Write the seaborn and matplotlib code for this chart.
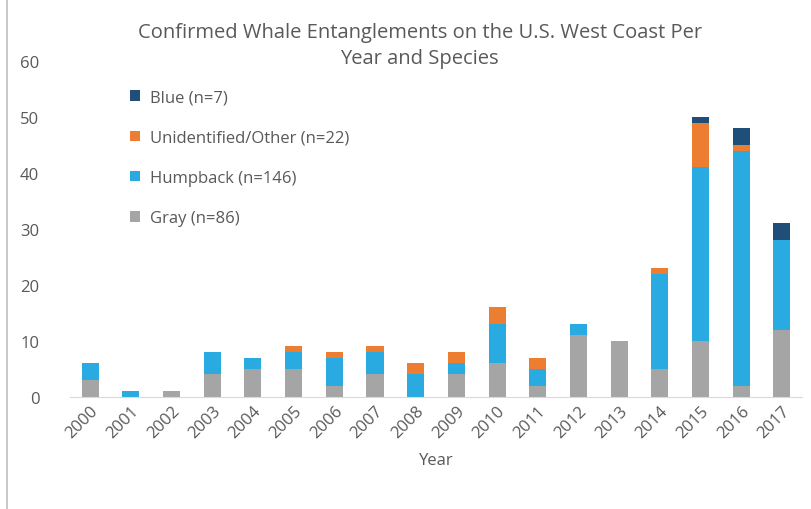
import numpy as np
import pandas as pd
import seaborn as sns
import matplotlib.pyplot as plt
from matplotlib.patches import Rectangle

# dados
anos = ['2000', '2001', '2002', '2003', '2004', '2005', '2006', '2007', '2008',
        '2009', '2010', '2011', '2012', '2013', '2014', '2015', '2016', '2017']
gray = [3, 0, 1, 4, 5, 5, 2, 4, 0, 4, 6, 2, 11, 10, 5, 10, 2, 12]
humpback = [3, 1, 0, 4, 2, 3, 5, 4, 4, 2, 7, 3, 2, 0, 17, 31, 42, 16]
other = [0, 0, 0, 0, 0, 1, 1, 1, 2, 2, 3, 2, 0, 0, 1, 8, 1, 0]
blue = [0, 0, 0, 0, 0, 0, 0, 0, 0, 0, 0, 0, 0, 0, 0, 1, 3, 3]

series = [('Gray (n=86)', gray, '#A5A5A5'),
          ('Humpback (n=146)', humpback, '#29ABE2'),
          ('Unidentified/Other (n=22)', other, '#ED7D31'),
          ('Blue (n=7)', blue, '#1F4E79')]

sns.set_style('white')
plt.rcParams['font.family'] = ['Open Sans', 'DejaVu Sans']

fig = plt.figure(figsize=(8.12, 5.10), dpi=100)
ax = fig.add_axes([0.086, 0.22, 0.902, 0.658])

dados = pd.DataFrame({'Ano': anos})
base = np.zeros(len(anos))
for nome, valores, cor in series:
    dados[nome] = valores
    sns.barplot(x='Ano', y=nome, data=dados, bottom=base, color=cor, saturation=1,
                width=0.42, label=nome, ax=ax, linewidth=0)
    base = base + np.array(valores)

ax.set_ylim(0, 60)
ax.set_xlim(-0.5, 17.5)
ax.set_yticks(range(0, 61, 10))
ax.tick_params(axis='y', labelsize=12, labelcolor='#595959', length=0, pad=22)
ax.tick_params(axis='x', labelsize=12, labelcolor='#595959', length=0, pad=4)
plt.setp(ax.get_xticklabels(), rotation=45, ha='right', rotation_mode='anchor')
ax.set_ylabel('')
ax.set_xlabel('Year', fontsize=12, color='#595959', labelpad=8)

for lado in ['top', 'right', 'left']:
    ax.spines[lado].set_visible(False)
ax.spines['bottom'].set_color('#D9D9D9')

handles, labels = ax.get_legend_handles_labels()
ax.legend(handles[::-1], labels[::-1], loc='upper left', bbox_to_anchor=(0.062, 0.96),
          frameon=False, fontsize=12, labelcolor='#595959', labelspacing=1.45,
          handlelength=0.6, handleheight=0.6, handletextpad=0.6)

fig.text(0.517, 0.91, 'Confirmed Whale Entanglements on the U.S. West Coast Per\nYear and Species',
         ha='center', va='center', fontsize=14.5, color='#595959', linespacing=1.35)

fig.patches.append(Rectangle((0.009, -0.05), 1.2, 1.2, transform=fig.transFigure,
                             fill=False, edgecolor='#BFBFBF', linewidth=1.2))

plt.savefig('out.png', dpi=100)
